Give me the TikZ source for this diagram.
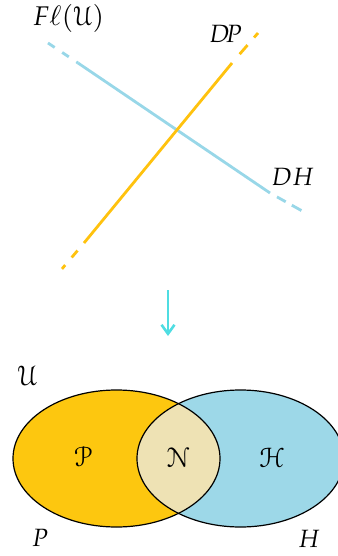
\documentclass[tikz,border=0pt]{standalone}
\usepackage{mathpazo}
\usepackage[mathscr]{euscript}
\usetikzlibrary{arrows.meta}
\definecolor{gold}{HTML}{FDC70F}
\definecolor{goldline}{HTML}{FFC20E}
\definecolor{skyfill}{HTML}{9DD8E8}
\definecolor{skyline}{HTML}{98D7E8}
\definecolor{creme}{HTML}{EEE2B4}
\definecolor{arrowcyan}{HTML}{4FDDE2}
\begin{document}
\begin{tikzpicture}[x=1pt,y=-1pt,
  lbl/.style={font=\fontsize{25}{29}\selectfont, inner sep=0pt, anchor=base},
  biglbl/.style={lbl, font=\fontsize{28}{32}\selectfont},
  titlelbl/.style={lbl, font=\fontsize{27}{31}\selectfont},
  bluel/.style={draw=skyline, line width=2.8pt},
  goldl/.style={draw=goldline, line width=2.8pt},
  dashend/.style={dash pattern=on 8pt off 9pt},
  rim/.style={draw=black, line width=1.2pt}]
\useasboundingbox (0,0) rectangle (337,556);
% upper part: two crossing lines
\coordinate (b0) at (48,43);
\coordinate (b1) at (78,63);
\coordinate (b2) at (270,193);
\coordinate (b3) at (304,212);
\coordinate (o0) at (258,33);
\coordinate (o1) at (232,63);
\coordinate (o2) at (84,243);
\coordinate (o3) at (61,270);
\draw[bluel, dashend] (b0) -- (b1);
\draw[bluel] (b1) -- (b2);
\draw[bluel, dash pattern=on 0pt off 8pt on 10pt off 7pt on 11pt off 20pt] (b2) -- (b3);
\draw[goldl, dash pattern=on 6pt off 10pt on 12pt off 20pt] (o0) -- (o1);
\draw[goldl] (o1) -- (o2);
\draw[goldl, dash pattern=on 0pt off 10pt on 9pt off 10pt on 5pt off 20pt] (o2) -- (o3);
\node[titlelbl] (fl) at (68.5,26) {$F\ell(\mathscr{U})$};
\node[lbl] (dp) at (225.5,43) {$D\!P$};
\node[lbl] (dh) at (292.5,185) {$DH$};
% arrow
\coordinate (a0) at (168,290);
\coordinate (a1) at (168,336);
\draw[arrowcyan, line width=2.6pt, -{Straight Barb[length=9pt,width=13pt]}] (a0) -- (a1);
% Venn diagram
\coordinate (cp) at (116.5,458.5);
\coordinate (ch) at (240.5,458.5);
\fill[gold] (cp) ellipse [x radius=103.5, y radius=68.5];
\fill[skyfill] (ch) ellipse [x radius=103.5, y radius=68.5];
\begin{scope}
  \clip (cp) ellipse [x radius=103.5, y radius=68.5];
  \fill[creme] (ch) ellipse [x radius=103.5, y radius=68.5];
\end{scope}
\draw[rim] (cp) ellipse [x radius=103.5, y radius=68.5];
\draw[rim] (ch) ellipse [x radius=103.5, y radius=68.5];
\node[biglbl] (uu) at (27.5,385) {$\mathscr{U}$};
\node[biglbl] (pp) at (83,466) {$\mathscr{P}$};
\node[biglbl] (nn) at (178,467) {$\mathscr{N}$};
\node[biglbl] (hh) at (272,467) {$\mathscr{H}$};
\node[lbl] (p) at (40,546) {$P$};
\node[lbl] (h) at (309,547) {$H$};
\end{tikzpicture}
\end{document}
